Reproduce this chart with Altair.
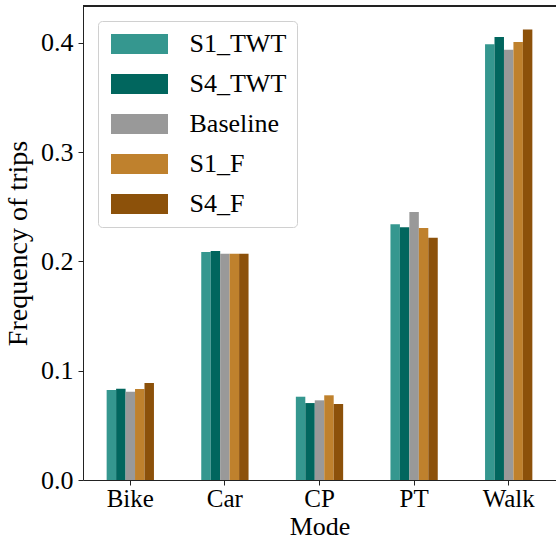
import altair as alt
import pandas as pd

modes = ["Bike", "Car", "CP", "PT", "Walk"]
scenarios = ["S1_TWT", "S4_TWT", "Baseline", "S1_F", "S4_F"]
colors = ["#35978f", "#01665e", "#999999", "#bf812d", "#8c510a"]

s1_twt = [0.0823, 0.2086, 0.0762, 0.2339, 0.3986]
s4_twt = [0.0835, 0.2095, 0.0704, 0.2312, 0.4053]
baseline = [0.0808, 0.2070, 0.0729, 0.2452, 0.3937]
s1_f = [0.0833, 0.2070, 0.0775, 0.2306, 0.4007]
s4_f = [0.0887, 0.2070, 0.0695, 0.2217, 0.4123]

series = [s1_twt, s4_twt, baseline, s1_f, s4_f]
rows = []
for sc, vals in zip(scenarios, series):
    for m, v in zip(modes, vals):
        rows.append({"Mode": m, "Scenario": sc, "Value": v})
df = pd.DataFrame(rows)

FONT = "Liberation Serif"
LS = 26   # tick / legend label size
TS = 28   # axis title size
W, H = 473, 474

bars = alt.Chart(df).mark_bar().encode(
    x=alt.X("Mode:N", sort=modes,
            scale=alt.Scale(paddingInner=0.5, paddingOuter=0.25),
            axis=alt.Axis(title="Mode", labelAngle=0, tickSize=5, labelPadding=1,
                          titlePadding=2, domainColor="#222", tickColor="#222",
                          labelFont=FONT, labelFontSize=25, titleFont=FONT,
                          titleFontSize=26)),
    xOffset=alt.XOffset("Scenario:N", sort=scenarios,
                        scale=alt.Scale(paddingInner=0, paddingOuter=0)),
    y=alt.Y("Value:Q", scale=alt.Scale(domain=[0, 0.4337], nice=False, zero=True),
            axis=alt.Axis(title="Frequency of trips", values=[0, 0.1, 0.2, 0.3, 0.4],
                          format=".1f", tickSize=5, labelPadding=5, grid=False,
                          titlePadding=8, domainColor="#222", tickColor="#222",
                          labelFont=FONT, labelFontSize=LS, titleFont=FONT,
                          titleFontSize=TS)),
    color=alt.Color("Scenario:N", sort=scenarios,
                    scale=alt.Scale(domain=scenarios, range=colors),
                    legend=alt.Legend(title=None, orient="none", legendX=15, legendY=15,
                                      symbolType="M-2.85,-1H2.85V1H-2.85Z", symbolSize=400,
                                      symbolStrokeWidth=0, symbolOpacity=1,
                                      symbolOffset=18.5,
                                      fillColor="white", strokeColor="#d0d0d0",
                                      cornerRadius=4, padding=10, rowPadding=14,
                                      labelOffset=37, labelFontSize=LS, labelFont=FONT,
                                      labelColor="black")),
)

top = alt.Chart(df).mark_rule(color="#222", strokeWidth=1).encode(
    x=alt.value(0), x2=alt.value(W), y=alt.value(0)
)

chart = alt.layer(bars, top).properties(
    width=W, height=H,
    autosize=alt.AutoSizeParams(type="none"),
    padding={"left": 83, "top": 6, "right": 0, "bottom": 61},
).configure_view(stroke=None).configure_axis(
    labelColor="black", titleColor="black", titleFontWeight="normal",
)

chart.save("out.html", embed_options={"renderer": "svg", "actions": False})
